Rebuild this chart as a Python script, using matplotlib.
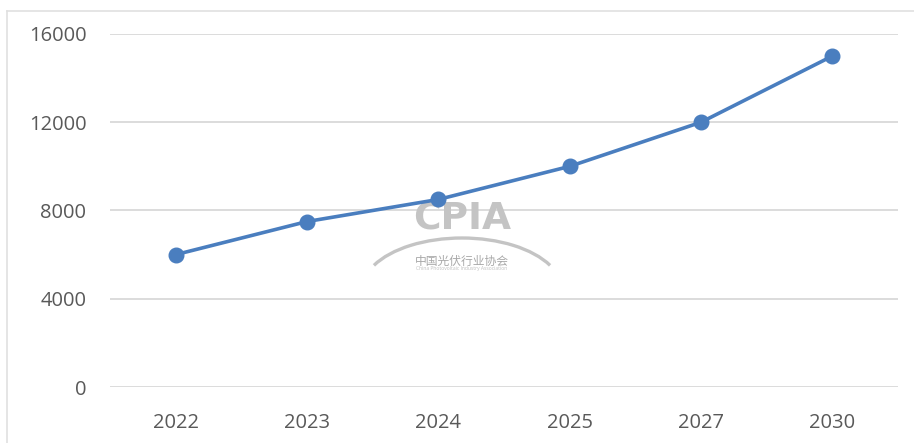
import numpy as np
import matplotlib.pyplot as plt
from matplotlib.patches import Arc
from matplotlib.lines import Line2D

years = ['2022', '2023', '2024', '2025', '2027', '2030']
values = [6000, 7500, 8500, 10000, 12000, 15000]
yticks = [0, 4000, 8000, 12000, 16000]

plt.rcParams['font.family'] = ['Open Sans', 'Noto Sans CJK SC', 'DejaVu Sans']

fig = plt.figure(figsize=(9.14, 4.43), dpi=100)
ax = fig.add_axes([0.1204, 0.1264, 0.8621, 0.7969])

x = np.arange(len(years))
ax.plot(x, values, color='#4a7ebf', lw=2.6, marker='o', markersize=10.5, zorder=3)

ax.set_xlim(-0.5, len(years) - 0.5)
ax.set_ylim(0, 16000)
ax.set_yticks(yticks)
ax.set_xticks(x)
ax.set_xticklabels(years)
ax.grid(axis='y', color='#d9d9d9', lw=1.3)
ax.set_axisbelow(True)
for s in ax.spines.values():
    s.set_visible(False)
ax.tick_params(length=0, colors='#595959', labelsize=14.5)
ax.tick_params(axis='y', pad=17)
ax.tick_params(axis='x', pad=19)

# CPIA watermark
ax.text(2.18, 7570, 'CPIA', fontsize=27, fontweight='bold', color='#c4c4c4',
        ha='center', va='center', family=['Liberation Sans Narrow', 'DejaVu Sans'], zorder=1)
fig.patches.append(Arc((462 / 914, 1 - 290 / 443), 200 / 914, 104 / 443, theta1=30, theta2=150,
                       transform=fig.transFigure, color='#c4c4c4', lw=2.4))
ax.text(2.18, 5710, '中国光伏行业协会', fontsize=8.5, color='#a8a8a8', ha='center', va='center',
        family=['Noto Sans CJK SC', 'DejaVu Sans'])
ax.text(2.18, 5350, 'China Photovoltaic Industry Association', fontsize=3.6, color='#c0c0c0',
        ha='center', va='center')

# outer frame
fig.add_artist(Line2D([7 / 914, 1], [1 - 11 / 443, 1 - 11 / 443], transform=fig.transFigure,
                      color='#e0e0e0', lw=1.2))
fig.add_artist(Line2D([7 / 914, 7 / 914], [0, 1 - 11 / 443], transform=fig.transFigure,
                      color='#e0e0e0', lw=1.2))

fig.savefig('out.png', dpi=100)
